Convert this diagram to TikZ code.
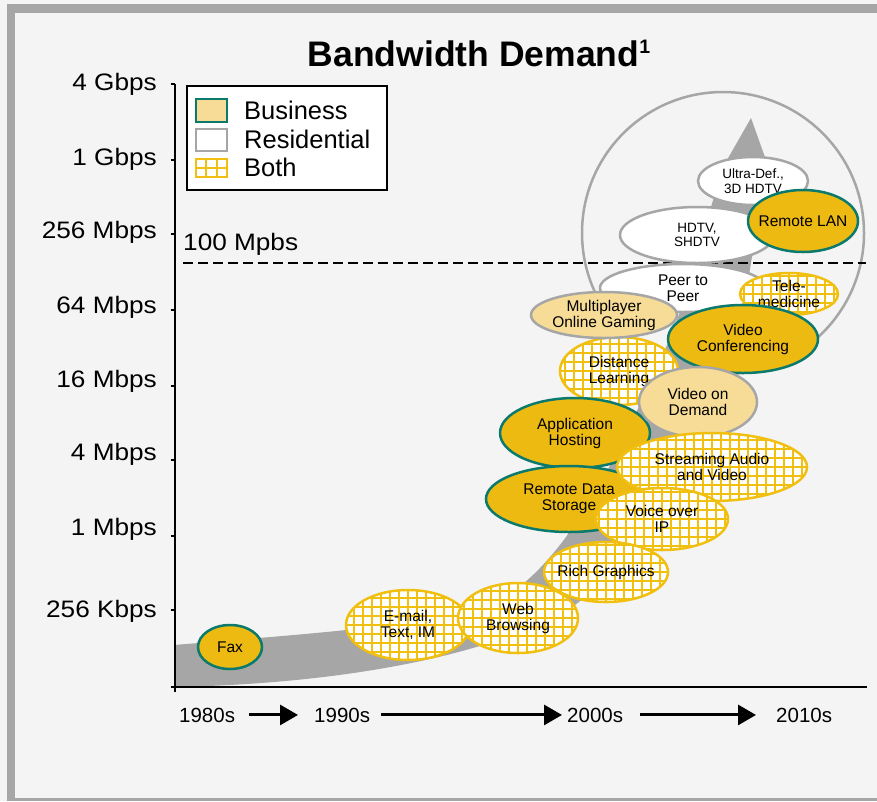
\documentclass[tikz,border=0pt]{standalone}
\usepackage{fontspec}
\setmainfont{Liberation Sans}
\newfontfamily\axisfont[FakeStretch=1.1]{Liberation Sans}
\usetikzlibrary{shapes.geometric,arrows.meta}
\definecolor{bgc}{HTML}{F4F4F4}
\definecolor{framec}{HTML}{A6A6A6}
\definecolor{bizfill}{HTML}{EDBA12}
\definecolor{bizline}{HTML}{0B7A6C}
\definecolor{tanfill}{HTML}{F6DC96}
\definecolor{resline}{HTML}{A6A6A6}
\definecolor{gridy}{HTML}{F0BF10}
\definecolor{swooshc}{HTML}{A6A6A6}
\newcommand{\etxt}{\fontsize{15.5}{16}\selectfont}
\newcommand{\estxt}{\fontsize{13.5}{14.5}\selectfont}
\newcommand{\axtxt}{\axisfont\fontsize{23.8}{26}\selectfont}
\newcommand{\legtxt}{\fontsize{25.5}{30}\selectfont}
\newcommand{\yrtxt}{\fontsize{20.5}{24}\selectfont}
\begin{document}
\begin{tikzpicture}[x=1pt,y=-1pt,
  ell/.style={ellipse, inner sep=0pt, line width=2.5pt},
  biz/.style={ell, fill=bizfill, draw=bizline},
  res/.style={ell, fill=white, draw=resline},
  tanell/.style={ell, fill=tanfill, draw=resline},
  both/.style={ell, fill=white, draw=gridy,
    path picture={\draw[gridy, line width=2.6pt, step=9pt] (path picture bounding box.south west) grid (path picture bounding box.north east);}},
  sz/.style 2 args={minimum width=#1pt, minimum height=#2pt},
  txt/.style={align=center, inner sep=0pt, font=\etxt},
  stxt/.style={align=center, inner sep=0pt, font=\estxt},
  axlab/.style={anchor=base east, inner sep=0pt, font=\axtxt},
  leglab/.style={anchor=base west, inner sep=0pt, font=\legtxt},
  yr/.style={anchor=base west, inner sep=0pt, font=\yrtxt},
  tl/.style={line width=3pt, -{Triangle[length=18pt,width=20pt]}},
  axline/.style={line width=2.2pt, black},
  swatch/.style={rectangle, inner sep=0pt, line width=2.5pt}
]
\useasboundingbox (0,0) rectangle (877,801);
\fill[bgc] (0,0) rectangle (877,801);
\fill[framec] (7,4) rectangle (877,12.5);
\fill[framec] (7,4) rectangle (15,801);
\fill[framec] (7,798) rectangle (877,801);

% title
\node[anchor=base, inner sep=0pt, font=\bfseries\fontsize{35.5}{40}\selectfont] (title) at (479,66)
  {Bandwidth Demand\raisebox{13pt}{\fontsize{19.5}{19.5}\selectfont 1}};

% swoosh
\fill[swooshc] (174,687) .. controls (330,684) and (470,660) .. (560,615)
  .. controls (650,560) and (720,420) .. (745,300)
  .. controls (755,240) and (762,190) .. (766,160) -- (751,118) -- (727,160)
  .. controls (700,230) and (690,300) .. (660,360)
  .. controls (620,450) and (570,560) .. (500,600)
  .. controls (440,625) and (330,632) .. (174,645) -- cycle;

% big ring
\node[circle, draw=resline, line width=2.5pt, minimum size=282pt, inner sep=0pt] (ring) at (723,233) {};

% axes
\draw[axline] (175,84) -- (175,692);
\draw[axline] (175,687) -- (867,687);
\foreach \ty in {84,160,234,310,386,460,536,610,687}
  \draw[axline] (170.5,\ty) -- (175,\ty);
\node[axlab] (l1) at (157,90) {4 Gbps};
\node[axlab] (l2) at (157,165) {1 Gbps};
\node[axlab] (l3) at (157,238) {256 Mbps};
\node[axlab] (l4) at (157,313) {64 Mbps};
\node[axlab] (l5) at (157,387) {16 Mbps};
\node[axlab] (l6) at (157,460) {4 Mbps};
\node[axlab] (l7) at (157,535) {1 Mbps};
\node[axlab] (l8) at (157,617) {256 Kbps};

% 100 Mbps line
\draw[line width=2.5pt, dash pattern=on 10pt off 5pt] (183,263) -- (866,263);
\node[anchor=base west, inner sep=0pt, font=\axtxt] (hundred) at (183,250) {100 Mpbs};

% ellipses
\node[res, sz={110}{48}, label={[stxt]center:{Ultra-Def.,\\3D HDTV}}] (ultra) at (753,181) {};
\node[res, sz={154}{56}, label={[stxt]center:{HDTV,\\SHDTV}}] (hdtv) at (697,235) {};
\node[biz, sz={110}{62}, label={[txt]center:{Remote LAN}}] (lan) at (803,221) {};
\node[res, sz={166}{48}, label={[txt]center:{Peer to\\Peer}}] (peer) at (683,288) {};
\node[both, sz={98}{42}, label={[txt]center:{Tele-\\medicine}}] (tele) at (789,294) {};
\node[biz, sz={150}{68}, label={[txt]center:{Video\\Conferencing}}] (vc) at (743,339) {};
\node[both, sz={118}{68}, label={[txt]center:{Distance\\Learning}}] (dist) at (619,371) {};
\node[tanell, sz={146}{46}, label={[txt]center:{Multiplayer\\Online Gaming}}] (game) at (604,315) {};
\node[biz, sz={150}{70}, label={[txt]center:{Application\\Hosting}}] (apph) at (575,433) {};
\node[tanell, sz={118}{70}, label={[txt]center:{Video on\\Demand}}] (vod) at (698,402) {};
\node[biz, sz={166}{66}, label={[txt]center:{Remote Data\\Storage}}] (rds) at (569,499) {};
\node[both, sz={190}{68}, label={[txt]center:{Streaming Audio\\and Video}}] (stream) at (712,467) {};
\node[both, sz={132}{62}, label={[txt]center:{Voice over\\IP}}] (voip) at (662,519) {};
\node[both, sz={124}{60}, label={[txt]center:{Rich Graphics}}] (rich) at (606,572) {};
\node[both, sz={124}{70}, label={[txt]center:{E-mail,\\Text, IM}}] (email) at (408,625) {};
\node[both, sz={120}{70}, label={[txt]center:{Web\\Browsing}}] (web) at (518,618) {};
\node[biz, sz={64}{44}, label={[txt]center:{Fax}}] (fax) at (230,647) {};

% legend
\node[rectangle, draw=black, fill=white, line width=2.5pt, minimum width=200pt, minimum height=104pt, inner sep=0pt] (legend) at (287,138) {};
\node[swatch, fill=tanfill, draw=bizline, minimum width=31pt, minimum height=23pt] (swb) at (211.5,110.5) {};
\node[swatch, fill=white, draw=resline, minimum width=31pt, minimum height=22pt] (swr) at (211.5,140) {};
\node[swatch, fill=white, draw=gridy, line width=2pt, minimum width=31pt, minimum height=18pt] (swboth) at (211.5,168) {};
\draw[gridy, line width=2pt] (206.3,159) -- (206.3,177) (216.7,159) -- (216.7,177) (196,168) -- (227,168);
\node[leglab] (lb) at (244,119) {Business};
\node[leglab] (lr) at (244,148) {Residential};
\node[leglab] (lbo) at (244,176) {Both};

% timeline
\node[yr] (t80) at (179,722) {1980s};
\node[yr] (t90) at (314,722) {1990s};
\node[yr] (t00) at (567,722) {2000s};
\node[yr] (t10) at (776,722) {2010s};
\draw[tl, shorten <=14pt, shorten >=16pt] (t80.east) -- (t90.west);
\draw[tl, shorten <=11pt, shorten >=5pt] (t90.east) -- (t00.west);
\draw[tl, shorten <=17pt, shorten >=20pt] (t00.east) -- (t10.west);
\end{tikzpicture}
\end{document}
